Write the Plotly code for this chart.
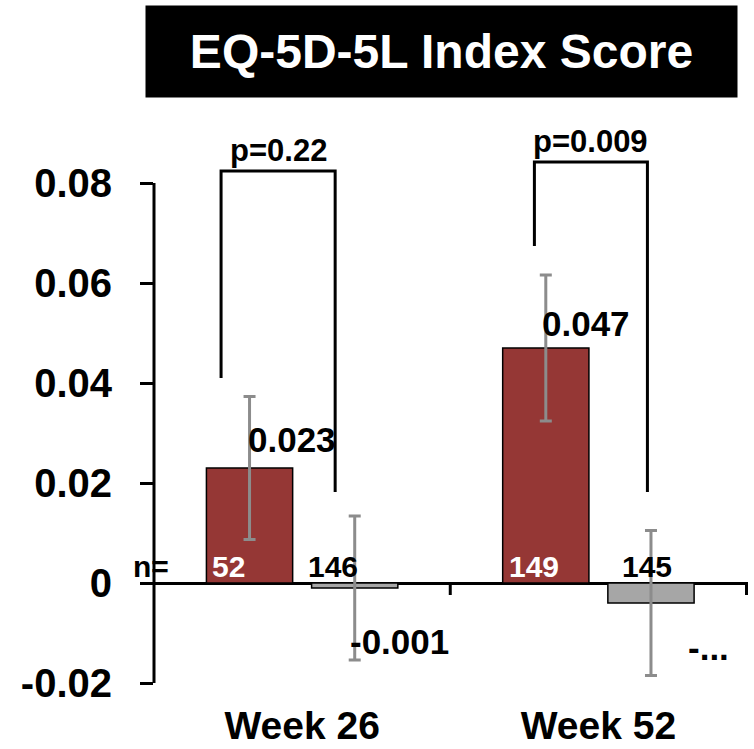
import plotly.graph_objects as go

# ---------------- data ----------------
categories = ["Week 26", "Week 52"]
treatment_values = [0.023, 0.047]
control_values = [-0.001, -0.004]
treatment_err = [0.0143, 0.0146]
control_err = [0.0144, 0.0145]
treatment_n = ["52", "149"]
control_n = ["146", "145"]
treatment_labels = ["0.023", "0.047"]
control_labels = ["-0.001", "-..."]
p_labels = ["p=0.22", "p=0.009"]
bracket_top = [0.0824, 0.0842]
bracket_left_bottom = [0.041, 0.0674]
bracket_right_bottom = [0.0182, 0.0182]
y_tick_values = [-0.02, 0.0, 0.02, 0.04, 0.06, 0.08]
y_tick_labels = ["-0.02", "0", "0.02", "0.04", "0.06", "0.08"]
title_text = "EQ-5D-5L Index Score"

# ---------------- styles / layout ----------------
W, H = 754, 749
Y_MIN, Y_MAX_AXIS, Y_MAX_VIEW = -0.02, 0.08, 0.1
X_MIN, X_MAX = -0.5, 1.505
ML, MR, MT, MB = 154, 6, 83, 66
FONT = "Liberation Sans, Arial, sans-serif"
RED = "#953735"
GREY = "#a6a6a6"
ERR = "#8c8c8c"
BARGAP = 0.29
BARGROUPGAP = 0.18
slot = (1 - BARGAP) / 2
off_t, off_c = -slot / 2, slot / 2
# bracket horizontal offsets (category units) for each group
bracket_left_off = [-0.2736, -0.216]
bracket_right_off = [0.1115, 0.1655]
# label pixel shifts
t_label_shift = [(42, 29), (40, 25)]
c_label_shift = [(45, -53), (58, -44)]
t_n_shift = [-21, -12]
c_n_shift = [-22, -4]

x_idx = list(range(len(categories)))

fig = go.Figure()
fig.add_trace(go.Bar(
    x=x_idx, y=treatment_values, marker=dict(color=RED, line=dict(color="black", width=1.5)),
    error_y=dict(type="data", array=treatment_err, color=ERR, thickness=3, width=6),
    showlegend=False, hoverinfo="skip"))
fig.add_trace(go.Bar(
    x=x_idx, y=control_values, marker=dict(color=GREY, line=dict(color="black", width=1.5)),
    error_y=dict(type="data", array=control_err, color=ERR, thickness=3, width=6),
    showlegend=False, hoverinfo="skip"))

# p-value brackets
for i in x_idx:
    xl, xr = i + bracket_left_off[i], i + bracket_right_off[i]
    fig.add_trace(go.Scatter(
        x=[xl, xl, xr, xr],
        y=[bracket_left_bottom[i], bracket_top[i], bracket_top[i], bracket_right_bottom[i]],
        mode="lines", line=dict(color="black", width=3), cliponaxis=False,
        showlegend=False, hoverinfo="skip"))
    fig.add_annotation(x=(xl + xr) / 2, y=bracket_top[i], text=p_labels[i], showarrow=False,
                       yanchor="bottom", yshift=1,
                       font=dict(family=FONT, size=31, color="black", weight="bold"))

# y axis line (only over the tick range)
fig.add_shape(type="line", xref="x domain", yref="y", x0=0, x1=0, y0=Y_MIN, y1=Y_MAX_AXIS,
              line=dict(color="black", width=3))
# category boundary ticks on the zero line
for b in [i + 0.5 for i in x_idx]:
    fig.add_shape(type="line", xref="x", yref="y", x0=b, x1=b, y0=0, y1=-0.0024,
                  line=dict(color="black", width=3))

# value labels
for i in x_idx:
    dx, dy = t_label_shift[i]
    fig.add_annotation(x=i + off_t, y=treatment_values[i], text=treatment_labels[i], showarrow=False,
                       xshift=dx, yshift=dy,
                       font=dict(family=FONT, size=35, color="black", weight="bold"))
    dx, dy = c_label_shift[i]
    fig.add_annotation(x=i + off_c, y=control_values[i], text=control_labels[i], showarrow=False,
                       xshift=dx, yshift=dy,
                       font=dict(family=FONT, size=35, color="black", weight="bold"))
    # n labels
    fig.add_annotation(x=i + off_t, y=0, text=treatment_n[i], showarrow=False,
                       xshift=t_n_shift[i], yshift=17,
                       font=dict(family=FONT, size=30, color="white", weight="bold"))
    fig.add_annotation(x=i + off_c, y=0, text=control_n[i], showarrow=False,
                       xshift=c_n_shift[i], yshift=17,
                       font=dict(family=FONT, size=30, color="black", weight="bold"))

fig.add_annotation(x=X_MIN, y=0, text="n=", showarrow=False, xshift=-3, yshift=17,
                   font=dict(family=FONT, size=30, color="black", weight="bold"))

# title box
pw, ph = W - ML - MR, H - MT - MB
box_l, box_r, box_t, box_b = 146, 737, 6, 97
fig.add_annotation(xref="paper", yref="paper",
                   x=((box_l + box_r) / 2 - ML) / pw, y=(H - MB - (box_t + box_b) / 2) / ph,
                   text=title_text, showarrow=False, bgcolor="black",
                   width=box_r - box_l, height=box_b - box_t, borderpad=0,
                   xanchor="center", yanchor="middle",
                   font=dict(family=FONT, size=48, color="white", weight="bold"))

fig.update_layout(
    template="none",
    width=W, height=H, margin=dict(l=ML, r=MR, t=MT, b=MB, pad=0, autoexpand=False),
    plot_bgcolor="white", paper_bgcolor="white",
    barmode="group", bargap=BARGAP, bargroupgap=BARGROUPGAP,
    xaxis=dict(range=[X_MIN, X_MAX], tickvals=x_idx, ticktext=categories,
               showgrid=False, zeroline=False, showline=False, ticks="", automargin=False,
               ticklabelstandoff=16,
               tickfont=dict(family=FONT, size=39, color="black", weight="bold")),
    yaxis=dict(range=[Y_MIN, Y_MAX_VIEW], tickvals=y_tick_values, ticktext=y_tick_labels,
               showgrid=False, zeroline=True, zerolinecolor="black", zerolinewidth=3,
               showline=False, automargin=False,
               ticks="outside", ticklen=13, tickwidth=3, tickcolor="black",
               ticklabelstandoff=20,
               tickfont=dict(family=FONT, size=40, color="black", weight="bold")),
)

fig.write_html("out.html", config={"displayModeBar": False},
               post_script="document.body.style.margin='0';")
